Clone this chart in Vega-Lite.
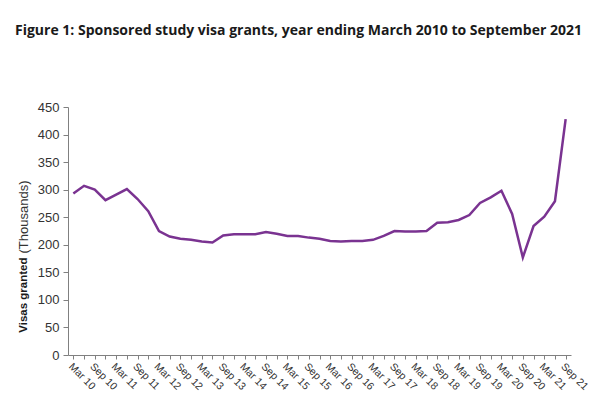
{
  "$schema": "https://vega.github.io/schema/vega-lite/v6.json",
  "autosize": "none",
  "width": 503,
  "height": 248,
  "padding": {"left": 68, "top": 107, "right": 29, "bottom": 40},
  "background": "white",
  "title": {
    "text": "Figure 1: Sponsored study visa grants, year ending March 2010 to September 2021",
    "anchor": "start",
    "frame": "group",
    "dx": -53,
    "offset": 63,
    "font": "Open Sans",
    "fontSize": 14,
    "fontWeight": "bold",
    "color": "#1a1a1a"
  },
  "data": {
    "values": [
      {"q": "Mar 10", "v": 293}, {"q": "Jun 10", "v": 307}, {"q": "Sep 10", "v": 300}, {"q": "Dec 10", "v": 281},
      {"q": "Mar 11", "v": 291}, {"q": "Jun 11", "v": 301}, {"q": "Sep 11", "v": 283}, {"q": "Dec 11", "v": 261},
      {"q": "Mar 12", "v": 225}, {"q": "Jun 12", "v": 215}, {"q": "Sep 12", "v": 211}, {"q": "Dec 12", "v": 209},
      {"q": "Mar 13", "v": 206}, {"q": "Jun 13", "v": 204}, {"q": "Sep 13", "v": 217}, {"q": "Dec 13", "v": 219},
      {"q": "Mar 14", "v": 219}, {"q": "Jun 14", "v": 219}, {"q": "Sep 14", "v": 223}, {"q": "Dec 14", "v": 220},
      {"q": "Mar 15", "v": 216}, {"q": "Jun 15", "v": 216}, {"q": "Sep 15", "v": 213}, {"q": "Dec 15", "v": 211},
      {"q": "Mar 16", "v": 207}, {"q": "Jun 16", "v": 206}, {"q": "Sep 16", "v": 207}, {"q": "Dec 16", "v": 207},
      {"q": "Mar 17", "v": 209}, {"q": "Jun 17", "v": 216}, {"q": "Sep 17", "v": 225}, {"q": "Dec 17", "v": 224},
      {"q": "Mar 18", "v": 224}, {"q": "Jun 18", "v": 225}, {"q": "Sep 18", "v": 240}, {"q": "Dec 18", "v": 241},
      {"q": "Mar 19", "v": 245}, {"q": "Jun 19", "v": 254}, {"q": "Sep 19", "v": 276}, {"q": "Dec 19", "v": 286},
      {"q": "Mar 20", "v": 298}, {"q": "Jun 20", "v": 256}, {"q": "Sep 20", "v": 177}, {"q": "Dec 20", "v": 234},
      {"q": "Mar 21", "v": 251}, {"q": "Jun 21", "v": 279}, {"q": "Sep 21", "v": 428}
    ]
  },
  "encoding": {
    "x": {
      "field": "q",
      "type": "ordinal",
      "sort": null,
      "scale": {"type": "point", "padding": 0.5},
      "axis": {
        "title": null,
        "labelExpr": "(indexof(datum.value, 'Mar') == 0 || indexof(datum.value, 'Sep') == 0) ? datum.value : ''",
        "labelAngle": 45,
        "labelAlign": "left",
        "labelFont": "Liberation Sans",
        "labelFontSize": 10.5,
        "labelColor": "#333333",
        "labelPadding": 2,
        "labelOverlap": false,
        "tickSize": 4,
        "tickColor": "#808080",
        "domainColor": "#808080",
        "grid": false
      }
    }
  },
  "layer": [
    {
      "mark": {"type": "line", "color": "#7a3391", "strokeWidth": 2.5},
      "encoding": {
        "y": {
          "field": "v",
          "type": "quantitative",
          "scale": {"domain": [0, 450], "nice": false},
          "axis": {
            "orient": "left",
            "values": [0, 50, 100, 150, 200, 250, 300, 350, 400, 450],
            "title": "(Thousands)",
            "titleFont": "Liberation Sans",
            "titleFontSize": 13,
            "titleFontWeight": "normal",
            "titleColor": "#333333",
            "titleAngle": -90,
            "titleAlign": "left",
            "titleBaseline": "middle",
            "titleX": -45,
            "titleY": 146,
            "labelFont": "Liberation Sans",
            "labelFontSize": 13,
            "labelColor": "#333333",
            "labelPadding": 4,
            "tickSize": 5,
            "tickColor": "#808080",
            "domainColor": "#808080",
            "grid": false
          }
        }
      }
    },
    {
      "mark": {"type": "line", "strokeOpacity": 0},
      "encoding": {
        "y": {
          "field": "v",
          "type": "quantitative",
          "axis": {
            "orient": "left",
            "title": "Visas granted",
            "titleFont": "Liberation Sans",
            "titleFontSize": 11.5,
            "titleFontWeight": "bold",
            "titleColor": "#1a1a1a",
            "titleAngle": -90,
            "titleAlign": "right",
            "titleBaseline": "middle",
            "titleX": -45,
            "titleY": 150,
            "labels": false,
            "ticks": false,
            "domain": false,
            "grid": false
          }
        }
      }
    }
  ],
  "resolve": {"axis": {"y": "independent"}},
  "config": {"view": {"stroke": null}}
}
